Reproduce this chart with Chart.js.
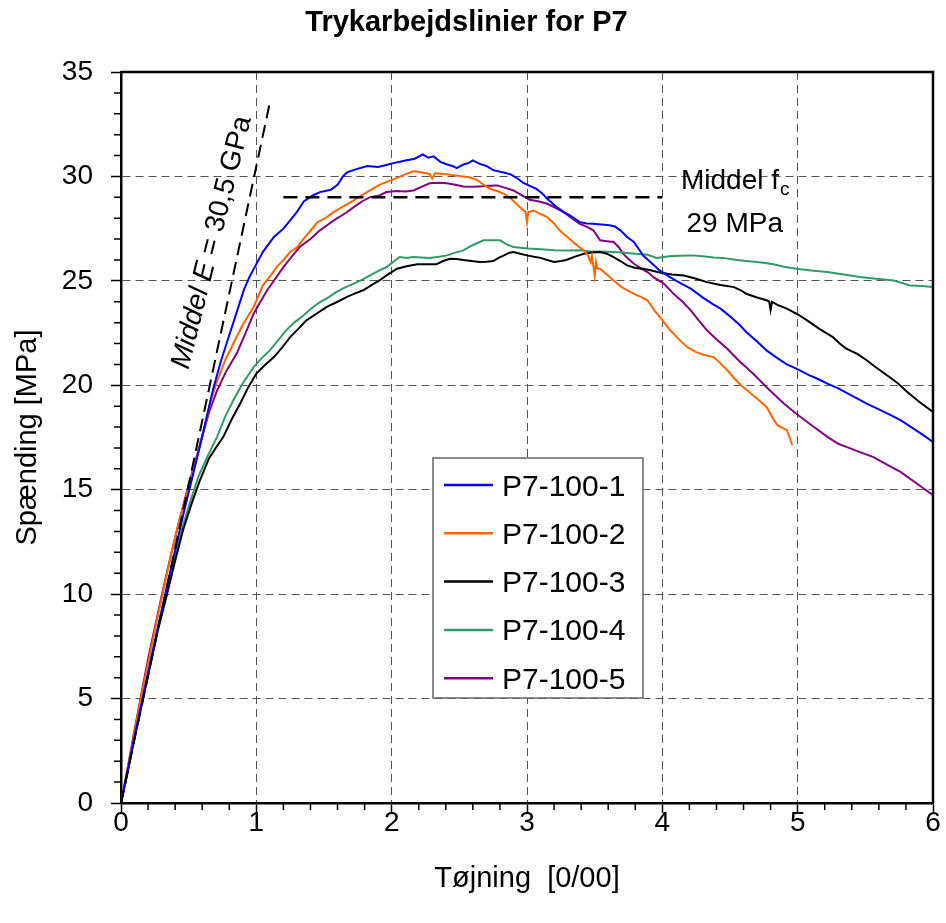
<!DOCTYPE html>
<html>
<head>
<meta charset="utf-8">
<script src="https://cdn.jsdelivr.net/npm/chart.js@4.4.0/dist/chart.umd.min.js"></script>
<style>
html, body { margin: 0; padding: 0; background: #fff; }
</style>
</head>
<body>
<canvas id="myChart" width="946" height="923"></canvas>
<script>
// strain [0/00], stress [MPa] pairs
let p7_100_1 = [[0,0],[0.05,1.6],[0.10,3.2],[0.16,5.0],[0.22,6.8],[0.28,8.6],[0.33,10.1],[0.40,12.1],[0.46,13.8],[0.52,15.4],
  [0.58,17.0],[0.63,18.4],[0.68,19.8],[0.74,21.2],[0.81,22.6],[0.87,23.8],[0.91,24.6],[0.95,25.2],[1.00,25.8],[1.05,26.4],[1.13,27.1],
  [1.20,27.5],[1.25,27.9],[1.30,28.3],[1.35,28.8],[1.42,29.1],[1.47,29.25],[1.55,29.36],[1.60,29.6],[1.64,30.0],[1.67,30.2],
  [1.74,30.35],[1.82,30.5],[1.90,30.45],[1.96,30.55],[2.02,30.65],[2.06,30.7],[2.11,30.77],[2.17,30.85],[2.23,31.05],[2.27,30.9],
  [2.31,30.96],[2.36,30.7],[2.41,30.57],[2.45,30.5],[2.48,30.4],[2.53,30.57],[2.57,30.65],[2.60,30.77],[2.65,30.6],[2.70,30.5],
  [2.75,30.3],[2.82,30.2],[2.88,30.1],[2.93,29.9],[2.97,29.7],[3.02,29.55],[3.07,29.4],[3.11,29.2],[3.15,28.93],[3.22,28.53],
  [3.27,28.3],[3.32,28.13],[3.39,27.81],[3.44,27.75],[3.49,27.73],[3.55,27.7],[3.61,27.66],[3.65,27.6],[3.69,27.42],[3.74,27.1],
  [3.79,26.86],[3.86,26.2],[3.92,25.85],[3.98,25.5],[4.05,25.2],[4.13,24.9],[4.21,24.63],[4.30,24.2],[4.37,23.9],[4.43,23.67],
  [4.50,23.3],[4.57,22.9],[4.62,22.55],[4.70,22.1],[4.77,21.67],[4.85,21.3],[4.92,21.0],[4.99,20.8],[5.08,20.5],[5.15,20.3],
  [5.22,20.08],[5.30,19.85],[5.40,19.5],[5.51,19.12],[5.60,18.85],[5.68,18.6],[5.76,18.33],[5.85,17.95],[5.92,17.65],[6.0,17.29]];

let p7_100_2 = [[0,0],[0.05,1.7],[0.10,3.4],[0.15,5.1],[0.21,7.0],[0.26,8.6],[0.31,10.1],[0.37,11.9],[0.43,13.5],[0.50,15.1],
  [0.56,16.6],[0.62,18.1],[0.66,19.2],[0.71,20.2],[0.77,21.2],[0.83,22.0],[0.90,22.9],[0.98,23.75],[1.05,24.8],[1.10,25.2],
  [1.15,25.66],[1.20,26.0],[1.25,26.38],[1.30,26.6],[1.34,26.94],[1.40,27.4],[1.45,27.8],[1.51,28.0],[1.57,28.29],[1.64,28.55],
  [1.72,28.85],[1.78,29.1],[1.84,29.33],[1.91,29.6],[1.96,29.73],[2.04,29.93],[2.10,30.1],[2.16,30.25],[2.22,30.2],[2.28,30.12],
  [2.30,29.9],[2.32,30.15],[2.41,30.1],[2.47,30.05],[2.53,30.0],[2.58,29.95],[2.63,29.83],[2.68,29.6],[2.73,29.4],[2.78,29.3],
  [2.83,29.17],[2.88,28.95],[2.92,28.69],[2.96,28.45],[2.99,28.29],[3.0,27.8],[3.01,28.3],[3.05,28.37],[3.10,28.2],[3.15,28.05],
  [3.20,27.75],[3.24,27.42],[3.29,27.15],[3.34,26.86],[3.38,26.65],[3.42,26.46],[3.45,26.22],[3.47,25.9],[3.48,26.2],[3.50,25.25],
  [3.51,25.9],[3.52,25.6],[3.54,25.58],[3.59,25.3],[3.64,25.02],[3.70,24.7],[3.79,24.38],[3.84,24.23],[3.89,24.07],[3.94,23.6],
  [3.98,23.27],[4.05,22.7],[4.13,22.15],[4.19,21.8],[4.25,21.59],[4.31,21.45],[4.38,21.35],[4.43,21.05],[4.48,20.72],[4.53,20.35],
  [4.58,20.0],[4.63,19.75],[4.67,19.52],[4.72,19.25],[4.77,18.96],[4.81,18.5],[4.85,18.09],[4.89,17.95],[4.92,17.85],[4.94,17.5],
  [4.96,17.13]];

let p7_100_3 = [[0,0],[0.05,1.5],[0.10,3.1],[0.15,4.6],[0.21,6.4],[0.27,8.2],[0.34,10.0],[0.40,11.6],[0.46,13.1],[0.52,14.3],
  [0.58,15.4],[0.65,16.5],[0.70,17.0],[0.756,17.53],[0.82,18.4],[0.88,19.12],[0.94,19.9],[1.00,20.56],[1.06,20.95],[1.13,21.35],
  [1.19,21.8],[1.25,22.31],[1.31,22.7],[1.37,23.11],[1.45,23.45],[1.52,23.75],[1.60,24.0],[1.67,24.23],[1.73,24.4],[1.79,24.55],
  [1.85,24.8],[1.91,25.02],[1.97,25.3],[2.04,25.58],[2.11,25.7],[2.19,25.79],[2.26,25.8],[2.33,25.79],[2.38,25.95],[2.43,26.06],
  [2.48,26.05],[2.53,26.0],[2.59,25.95],[2.65,25.9],[2.70,25.92],[2.75,25.95],[2.79,26.1],[2.83,26.22],[2.87,26.35],[2.90,26.38],
  [2.95,26.3],[3.0,26.22],[3.05,26.15],[3.10,26.1],[3.15,26.0],[3.20,25.9],[3.25,25.95],[3.29,26.0],[3.35,26.15],[3.42,26.3],
  [3.48,26.36],[3.54,26.38],[3.59,26.3],[3.64,26.14],[3.69,25.95],[3.74,25.74],[3.80,25.62],[3.86,25.58],[3.92,25.5],[3.98,25.4],
  [4.07,25.3],[4.16,25.26],[4.25,25.1],[4.33,24.94],[4.43,24.8],[4.53,24.7],[4.58,24.55],[4.62,24.38],[4.70,24.2],[4.77,24.07],
  [4.79,24.0],[4.80,23.6],[4.81,24.0],[4.85,23.85],[4.92,23.67],[5.00,23.4],[5.07,23.11],[5.16,22.7],[5.26,22.31],[5.31,22.0],
  [5.36,21.75],[5.44,21.5],[5.51,21.2],[5.58,20.85],[5.66,20.48],[5.74,20.1],[5.81,19.68],[5.90,19.2],[6.0,18.72]];

let p7_100_4 = [[0,0],[0.05,1.6],[0.10,3.2],[0.15,4.8],[0.21,6.6],[0.27,8.4],[0.33,10.0],[0.39,11.6],[0.45,13.1],[0.51,14.4],
  [0.57,15.6],[0.64,16.6],[0.71,17.53],[0.77,18.5],[0.83,19.28],[0.90,20.1],[0.98,20.87],[1.04,21.3],[1.10,21.67],[1.16,22.15],
  [1.22,22.63],[1.28,23.0],[1.35,23.35],[1.41,23.7],[1.47,23.98],[1.53,24.2],[1.59,24.46],[1.66,24.7],[1.72,24.87],[1.78,25.05],
  [1.84,25.26],[1.91,25.5],[1.96,25.65],[2.01,25.9],[2.06,26.14],[2.11,26.1],[2.16,26.14],[2.22,26.12],[2.28,26.1],[2.35,26.15],
  [2.41,26.22],[2.47,26.35],[2.53,26.46],[2.58,26.65],[2.63,26.8],[2.68,26.94],[2.74,26.95],[2.80,26.94],[2.85,26.75],[2.90,26.62],
  [2.95,26.58],[3.01,26.55],[3.07,26.53],[3.13,26.5],[3.20,26.46],[3.30,26.45],[3.39,26.46],[3.47,26.4],[3.55,26.4],[3.64,26.38],
  [3.72,26.35],[3.80,26.3],[3.89,26.25],[3.96,26.1],[4.05,26.18],[4.13,26.2],[4.21,26.22],[4.30,26.18],[4.38,26.12],[4.45,26.1],
  [4.55,26.0],[4.62,25.95],[4.70,25.9],[4.76,25.85],[4.82,25.79],[4.90,25.68],[4.99,25.58],[5.10,25.5],[5.22,25.42],[5.34,25.3],
  [5.46,25.18],[5.58,25.1],[5.71,25.02],[5.77,24.9],[5.83,24.78],[5.92,24.75],[6.0,24.7]];

let p7_100_5 = [[0,0],[0.05,1.7],[0.10,3.5],[0.15,5.2],[0.20,6.9],[0.26,8.7],[0.31,10.2],[0.37,11.9],[0.43,13.5],[0.49,15.0],
  [0.55,16.4],[0.60,17.53],[0.65,18.7],[0.71,19.76],[0.78,20.7],[0.855,21.52],[0.92,22.5],[0.98,23.43],[1.03,24.0],[1.08,24.55],
  [1.14,25.1],[1.20,25.66],[1.26,26.15],[1.32,26.62],[1.40,27.0],[1.47,27.42],[1.53,27.7],[1.59,27.97],[1.66,28.25],[1.72,28.53],
  [1.78,28.8],[1.84,29.01],[1.91,29.09],[1.96,29.25],[2.04,29.3],[2.10,29.28],[2.16,29.33],[2.22,29.5],[2.28,29.67],[2.35,29.7],
  [2.41,29.67],[2.47,29.6],[2.53,29.52],[2.60,29.5],[2.65,29.52],[2.72,29.55],[2.78,29.57],[2.84,29.45],[2.90,29.33],[2.96,29.1],
  [3.02,28.88],[3.09,28.8],[3.15,28.69],[3.21,28.5],[3.27,28.29],[3.33,28.0],[3.39,27.73],[3.44,27.6],[3.49,27.42],[3.54,26.94],
  [3.59,26.9],[3.64,26.86],[3.68,26.6],[3.71,26.3],[3.75,26.05],[3.79,25.82],[3.84,25.6],[3.89,25.42],[3.94,25.15],[4.01,24.87],
  [4.08,24.4],[4.15,24.0],[4.21,23.59],[4.27,23.1],[4.33,22.63],[4.40,22.2],[4.48,21.75],[4.57,21.15],[4.67,20.56],[4.78,19.85],
  [4.90,19.12],[4.99,18.64],[5.10,18.1],[5.22,17.53],[5.30,17.2],[5.36,17.05],[5.46,16.8],[5.56,16.56],[5.66,16.2],[5.76,15.85],
  [5.88,15.3],[6.0,14.74]];

// reference lines: mean E-modulus (30,5 GPa) and mean fc (29 MPa)
let eLine = [[0,0],[1.102,33.6]];
let fcLine = [[1.2,29],[4.0,29]];

let seriesNames = ['P7-100-1','P7-100-2','P7-100-3','P7-100-4','P7-100-5'];
let seriesColors = ['#0000ff','#ff6600','#000000','#339966','#800080'];
let seriesData = [p7_100_1, p7_100_2, p7_100_3, p7_100_4, p7_100_5];

let xTicksMajor = 1, yTicksMajor = 5;

const FONT = "'Liberation Sans', Arial, sans-serif";
Chart.defaults.font.family = FONT;
Chart.defaults.color = '#000';

const toXY = pts => pts.map(p => ({x: p[0], y: p[1]}));
const isMajor = (v, step) => Math.abs(v / step - Math.round(v / step)) < 1e-6;

let datasets = seriesNames.map((name, i) => ({
  label: name,
  data: toXY(seriesData[i]),
  borderColor: seriesColors[i],
  backgroundColor: seriesColors[i],
  borderWidth: 2,
  showLine: true,
  pointRadius: 0,
  order: 2
}));
datasets.push({
  label: '', data: toXY(eLine), borderColor: '#000', borderWidth: 2,
  borderDash: [13, 7], showLine: true, pointRadius: 0, order: 1
});
datasets.push({
  label: '', data: toXY(fcLine), borderColor: '#000', borderWidth: 2.5,
  borderDash: [14, 8], showLine: true, pointRadius: 0, order: 1
});

// frame, minor ticks, legend box and the text notes
const extras = {
  id: 'extras',
  afterDraw(chart) {
    const {ctx, chartArea: a, scales: {x, y}} = chart;
    ctx.save();
    // top and right frame
    ctx.strokeStyle = '#000';
    ctx.lineWidth = 2.5;
    ctx.beginPath();
    ctx.moveTo(a.left, a.top); ctx.lineTo(a.right, a.top); ctx.lineTo(a.right, a.bottom);
    ctx.stroke();

    // minor ticks
    ctx.lineWidth = 1.5;
    ctx.beginPath();
    x.ticks.forEach(t => {
      if (isMajor(t.value, xTicksMajor)) return;
      const px = x.getPixelForValue(t.value);
      ctx.moveTo(px, a.bottom); ctx.lineTo(px, a.bottom + 7);
    });
    y.ticks.forEach(t => {
      if (isMajor(t.value, yTicksMajor)) return;
      const py = y.getPixelForValue(t.value);
      ctx.moveTo(a.left - 7, py); ctx.lineTo(a.left, py);
    });
    ctx.stroke();

    // legend
    const lx = 433, ly = 458, lw = 210, lh = 240;
    ctx.fillStyle = '#fff';
    ctx.fillRect(lx, ly, lw, lh);
    ctx.strokeStyle = '#666';
    ctx.lineWidth = 1.5;
    ctx.strokeRect(lx, ly, lw, lh);
    ctx.font = '30px ' + FONT;
    ctx.textBaseline = 'alphabetic';
    ctx.textAlign = 'left';
    seriesNames.forEach((name, i) => {
      const ry = 485 + i * 48.3;
      ctx.strokeStyle = seriesColors[i];
      ctx.lineWidth = 2.5;
      ctx.beginPath(); ctx.moveTo(444, ry); ctx.lineTo(493, ry); ctx.stroke();
      ctx.fillStyle = '#000';
      ctx.fillText(name, 502, ry + 10.5);
    });

    // rotated E note
    const parts = [['italic 28px ' + FONT, 'Middel '], ['italic 28px ' + FONT, 'E'], ['28px ' + FONT, ' = 30,5 GPa']];
    let total = 0;
    parts.forEach(p => { ctx.font = p[0]; total += ctx.measureText(p[1]).width; });
    ctx.save();
    ctx.translate(x.getPixelForValue(0.673), y.getPixelForValue(26.84));
    ctx.rotate(-76 * Math.PI / 180);
    ctx.textBaseline = 'middle';
    let cx = -total / 2;
    parts.forEach(p => { ctx.font = p[0]; ctx.fillText(p[1], cx, 0); cx += ctx.measureText(p[1]).width; });
    ctx.restore();

    // fc note
    const fx = x.getPixelForValue(4.535);
    ctx.font = '28px ' + FONT;
    const w1 = ctx.measureText('Middel f').width;
    ctx.font = '19px ' + FONT;
    const w2 = ctx.measureText('c').width;
    const b1 = y.getPixelForValue(29.41);
    ctx.textBaseline = 'alphabetic';
    ctx.font = '28px ' + FONT;
    ctx.fillText('Middel f', fx - (w1 + w2) / 2, b1);
    ctx.font = '19px ' + FONT;
    ctx.fillText('c', fx - (w1 + w2) / 2 + w1 + 1, b1 + 6);
    ctx.font = '28px ' + FONT;
    ctx.textAlign = 'center';
    ctx.fillText('29 MPa', fx, y.getPixelForValue(27.33));
    ctx.restore();
  }
};

let chartElement = document.getElementById('myChart').getContext('2d');

let myChart = new Chart(chartElement, {
  type: 'scatter',
  data: {datasets: datasets},
  plugins: [extras],
  options: {
    responsive: false,
    animation: false,
    layout: {padding: {left: 0, right: 13, top: 0, bottom: 0}},
    plugins: {
      legend: {display: false},
      tooltip: {enabled: false},
      title: {
        display: true,
        text: 'Trykarbejdslinier for P7',
        color: '#000',
        font: {size: 29, weight: 'bold'},
        padding: {top: 6, bottom: 31.2}
      }
    },
    scales: {
      x: {
        type: 'linear',
        min: 0, max: 6,
        afterFit: s => { s.height = 120; },
        ticks: {
          stepSize: 0.2, autoSkip: false, maxRotation: 0,
          font: {size: 28, lineHeight: 1}, padding: -4, color: '#000',
          callback: v => isMajor(v, xTicksMajor) ? Math.round(v) : ''
        },
        grid: {
          color: c => isMajor(c.tick.value, xTicksMajor) ? '#555' : 'rgba(0,0,0,0)',
          tickColor: c => isMajor(c.tick.value, xTicksMajor) ? '#000' : 'rgba(0,0,0,0)',
          tickLength: 10, lineWidth: 1, tickWidth: 1.5
        },
        border: {display: true, color: '#000', width: 2.5, dash: [8, 5]},
        title: {display: true, text: 'Tøjning  [0/00]', color: '#000', font: {size: 29}, padding: {top: 0, bottom: 26.6}}
      },
      y: {
        type: 'linear',
        min: 0, max: 35,
        afterFit: s => { s.width = 121; },
        ticks: {
          stepSize: 1, autoSkip: false,
          font: {size: 28}, padding: 18, color: '#000',
          callback: v => isMajor(v, yTicksMajor) ? Math.round(v) : ''
        },
        grid: {
          color: c => isMajor(c.tick.value, yTicksMajor) ? '#555' : 'rgba(0,0,0,0)',
          tickColor: c => isMajor(c.tick.value, yTicksMajor) ? '#000' : 'rgba(0,0,0,0)',
          tickLength: 10, lineWidth: 1, tickWidth: 1.5
        },
        border: {display: true, color: '#000', width: 2.5, dash: [8, 5]},
        title: {display: true, text: 'Spænding [MPa]', color: '#000', font: {size: 29}, padding: {top: 11, bottom: 0}}
      }
    }
  }
});
</script>
</body>
</html>
